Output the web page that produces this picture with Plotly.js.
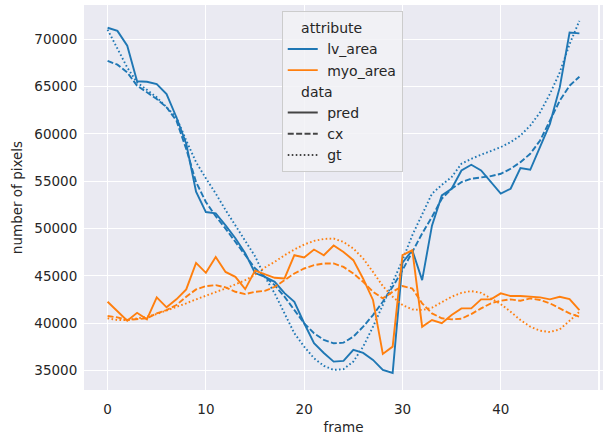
<!DOCTYPE html>
<html>
<head>
<meta charset="utf-8">
<script src="https://cdn.plot.ly/plotly-3.0.1.min.js"></script>
<style>html,body{margin:0;padding:0;background:#fff}#chart{width:607px;height:435px}</style>
</head>
<body>
<div id="chart"></div>
<script>
const frames = Array.from({length: 49}, (_, i) => i);

const lvPred = [71200,70870,69300,65550,65500,65260,64200,61750,58950,53900,51740,51600,50340,48980,47400,45300,44900,44370,43180,42270,40000,37900,36860,35950,36020,37200,36860,36130,35070,34750,46400,47700,44550,50300,53500,54200,56130,56730,56130,54900,53680,54200,56380,56200,58590,61050,64900,70700,70600];
const lvCx   = [67700,67300,66480,65080,64380,63680,62800,61400,58400,54900,52800,51290,49990,48580,47180,45800,44900,44020,42800,41390,39990,38940,38240,37880,37950,38580,39630,40860,42270,43840,45600,47530,49470,51220,53150,54200,54900,55260,55430,55530,55780,56310,57010,57890,59290,61400,63500,65080,66030];
const lvGt   = [71000,69050,67000,65430,64630,63850,62800,61740,59300,57000,55300,53700,51950,50300,48730,47080,44900,43150,41040,38940,37530,36300,35500,35070,35150,35950,37530,39630,41920,44200,46660,49290,51570,53680,54600,55430,56840,57360,57790,58170,58590,59120,59820,60870,62270,64210,66480,69470,71930];

const myoPred = [42270,41210,40260,41100,40410,42730,41680,42520,43570,46370,45320,47000,45420,44900,43600,45550,45150,44800,44730,47180,46940,47780,47180,48200,47530,46660,44700,42460,36760,37530,47180,47710,39630,40340,40000,40860,41570,41570,42520,42520,43150,42870,42870,42800,42730,42520,42800,42550,41390];
const myoCx   = [40760,40620,40340,40410,40520,41040,41390,41920,42800,43570,43920,44020,43780,43320,43080,43320,43420,43840,44550,45250,45780,46130,46310,46310,45950,45250,44370,43320,42620,43320,43920,43670,42100,41040,40520,40410,40480,40970,41570,42100,42370,42520,42370,42620,42450,42100,41570,41040,40690];
const myoGt   = [40520,40340,40340,40480,40690,40970,41320,41680,42100,42520,42900,43250,43670,44100,44550,45100,45890,46480,47180,47780,48310,48690,48900,48940,48580,47890,46830,45420,43920,42800,41920,41460,41390,41640,42200,42800,43210,43390,43210,42620,42020,41210,40340,39630,39210,39070,39350,40260,41210];

const attributes = ['lv_area', 'myo_area'];
const dataKinds = ['pred', 'cx', 'gt'];
const yTicks = [35000, 40000, 45000, 50000, 55000, 60000, 65000, 70000];
const xTicks = [0, 10, 20, 30, 40, 50];

const colors = {lv_area: '#1f77b4', myo_area: '#ff7f0e'};
const dashes = {pred: 'solid', cx: '6px,2.4px', gt: '1.6px,2.4px'};
const series = {
  lv_area: {pred: lvPred, cx: lvCx, gt: lvGt},
  myo_area: {pred: myoPred, cx: myoCx, gt: myoGt}
};

const traces = [];
attributes.forEach(a => {
  dataKinds.forEach(d => {
    traces.push({
      x: frames, y: series[a][d], type: 'scatter', mode: 'lines',
      line: {color: colors[a], width: 1.9, dash: dashes[d]},
      showlegend: false, hoverinfo: 'skip'
    });
  });
});
const NB = '\u00A0';
// legend entries
attributes.forEach((a, i) => {
  traces.push({
    x: [null], y: [null], type: 'scatter', mode: 'lines', name: NB + a,
    line: {color: colors[a], width: 1.9},
    legendgroup: 'attribute', legendgrouptitle: {text: i === 0 ? NB + NB + NB + 'attribute' : ''},
    showlegend: true, legendrank: i + 1
  });
});
dataKinds.forEach((d, i) => {
  traces.push({
    x: [null], y: [null], type: 'scatter', mode: 'lines', name: NB + d,
    line: {color: '#444444', width: 1.9, dash: dashes[d]},
    legendgroup: 'data', legendgrouptitle: {text: i === 0 ? NB + NB + NB + 'data' : ''},
    showlegend: true, legendrank: 10 + i
  });
});

const font = {family: 'DejaVu Sans, sans-serif', size: 13.5, color: '#262626'};
const lfont = {family: 'DejaVu Sans, sans-serif', size: 14, color: '#262626'};
const layout = {
  width: 607, height: 435,
  margin: {l: 84, r: 4, t: 5, b: 45},
  paper_bgcolor: '#ffffff', plot_bgcolor: '#EAEAF2',
  font: font,
  showlegend: true,
  xaxis: {
    range: [-2.4, 50.4], tickvals: xTicks, ticktext: xTicks.map(String),
    showgrid: true, gridcolor: '#ffffff', gridwidth: 1.2, zeroline: false,
    showline: false, ticks: 'outside', ticklen: 7, tickcolor: 'rgba(0,0,0,0)', tickfont: font,
    title: {text: 'frame', font: font, standoff: 8}
  },
  yaxis: {
    range: [32950, 73600], tickvals: yTicks, ticktext: yTicks.map(String),
    showgrid: true, gridcolor: '#ffffff', gridwidth: 1.2, zeroline: false,
    showline: false, ticks: 'outside', ticklen: 3, tickcolor: 'rgba(0,0,0,0)', tickfont: font,
    title: {text: 'number of pixels', font: font, standoff: 8}
  },
  legend: {
    x: 0.381, y: 0.984, xanchor: 'left', yanchor: 'top',
    bgcolor: 'rgba(242,242,246,0.85)', bordercolor: '#cccccc', borderwidth: 1,
    font: lfont,
    grouptitlefont: lfont,
    tracegroupgap: 0, itemwidth: 30, traceorder: 'grouped'
  }
};

Plotly.newPlot('chart', traces, layout, {staticPlot: true, displayModeBar: false});
</script>
</body>
</html>
